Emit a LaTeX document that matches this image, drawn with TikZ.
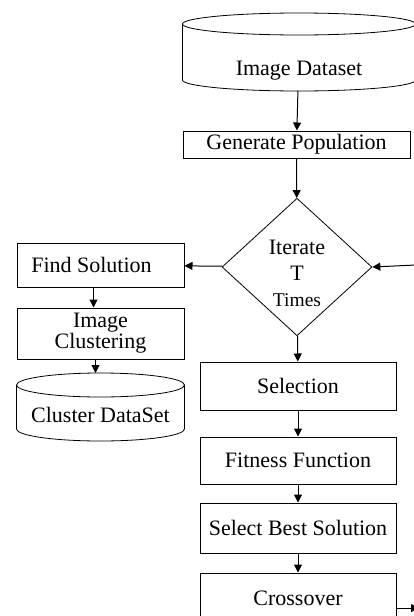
\documentclass[tikz,border=0pt]{standalone}
\usepackage{fontspec}
\setmainfont{Liberation Serif}
\usetikzlibrary{shapes.geometric, arrows.meta, calc}

\begin{document}
\begin{tikzpicture}[x=1pt, y=-1pt,
      flowbox/.style={draw, line width=1pt, inner sep=0pt, align=center,
        font=\fontsize{22}{21}\selectfont},
      dbase/.style={inner sep=0pt, anchor=north,
        font=\fontsize{22}{21}\selectfont},
      dbline/.style={line width=0.8pt},
      decide/.style={draw, line width=0.8pt, diamond, inner sep=0pt,
        align=center, font=\fontsize{22}{26}\selectfont},
      >={Triangle[length=8pt, width=8pt]}, line width=1pt]
    \useasboundingbox (0,0) rectangle (414,616);
    \clip (0,0) rectangle (414,616);
    % main column
    \node[dbase, minimum width=232pt, text height=62pt, text depth=15pt]
      (imgdata) at (299,13) {Image Dataset};
    \node[flowbox, minimum width=227pt, minimum height=27pt] (genpop)
      at (296.5,144.5) {Generate Population};
    \node[decide, minimum width=149pt, minimum height=137pt, aspect=1.09,
      text height=82pt, text depth=4pt]
      (iter) at (297,267) {Iterate\\T\\{\fontsize{19.5}{22}\selectfont Times}};
    \node[flowbox, minimum width=196pt, minimum height=48pt] (select)
      at (298,386) {Selection};
    \node[flowbox, minimum width=196pt, minimum height=47pt] (fitness)
      at (298,460.5) {Fitness Function};
    \node[flowbox, minimum width=196pt, minimum height=50pt] (best)
      at (298,528) {Select Best Solution};
    \node[flowbox, minimum width=196pt, minimum height=50pt] (cross)
      at (298,598) {Crossover};
    % left column
    \node[flowbox, minimum width=167pt, minimum height=44pt] (findsol)
      at (100.5,265) {Find Solution\hspace*{18pt}};
    \node[flowbox, minimum width=167pt, minimum height=51pt] (cluster)
      at (100.5,333.5) {Image\\Clustering};
    \node[dbase, minimum width=167pt, text height=49pt, text depth=18pt]
      (clusdata) at (100.5,373) {Cluster DataSet};
    % cylinder outlines
    \foreach \db/\ry in {imgdata/11, clusdata/12} {
      \draw[dbline] let \p1=(\db.west), \p2=(\db.east),
          \n1={(\x2-\x1)/2} in
        ([yshift=-\ry pt]\db.north) ellipse [x radius=\n1, y radius=\ry pt]
        ([yshift=-\ry pt]\db.north west) -- ([yshift=\ry pt]\db.south west)
        arc [start angle=180, end angle=360, x radius=\n1, y radius=\ry pt]
        -- ([yshift=-\ry pt]\db.north east);
    }
    % loose ends at the right border
    \coordinate (loopin) at (416,265);
    \coordinate (loopout) at (419,608);
    \foreach \a/\b in {imgdata/genpop, genpop/iter, iter/select,
        select/fitness, fitness/best, best/cross} {
      \draw[->] (\a) -- (\b);
    }
    \draw[->] (iter) -- (findsol);
    \draw[->] ([xshift=-7pt]findsol.south) -- ([xshift=-7pt]cluster.north);
    \draw[->] ([xshift=-5pt]cluster.south) -- ([xshift=-5pt]clusdata.north);
    \draw[->] (loopin) -- (iter.east);
    \draw[->] (cross.east |- loopout) -- (loopout);
  \end{tikzpicture}
\end{document}
